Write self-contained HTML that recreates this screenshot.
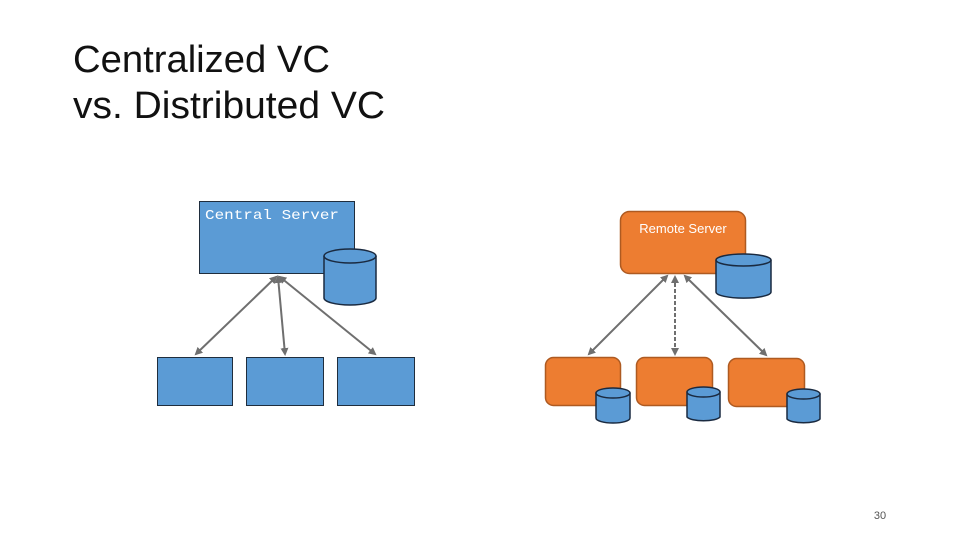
<!DOCTYPE html>
<html><head><meta charset="utf-8"><style>
html,body{margin:0;padding:0;background:#fff;}
svg{display:block;}
</style></head><body>
<svg width="960" height="540" viewBox="0 0 960 540" xmlns="http://www.w3.org/2000/svg">
<defs>
<marker id="ah" markerWidth="8" markerHeight="8" refX="6" refY="4" orient="auto-start-reverse" markerUnits="userSpaceOnUse">
<path d="M0,0 L8,4 L0,8 z" fill="#6f6f6f"/>
</marker>
</defs>
<text x="73" y="72" font-family="Liberation Sans, sans-serif" font-size="38" fill="#111" textLength="257" lengthAdjust="spacingAndGlyphs">Centralized VC</text>
<text x="73" y="118" font-family="Liberation Sans, sans-serif" font-size="38" fill="#111" textLength="312" lengthAdjust="spacingAndGlyphs">vs. Distributed VC</text>

<!-- Central -->
<rect x="199.5" y="201.5" width="155" height="72" fill="#5b9bd5" stroke="#1f2d3d" stroke-width="1"/>
<text x="205" y="219" font-family="Liberation Mono, monospace" font-size="14" fill="#fff" textLength="134" lengthAdjust="spacingAndGlyphs">Central Server</text>
<g stroke="#1a2a40" stroke-width="1.5" fill="#5b9bd5">
<path d="M324,256 L324,298 A26,7 0 0 0 376,298 L376,256"/>
<ellipse cx="350" cy="256" rx="26" ry="7"/>
</g>
<rect x="157.5" y="357.5" width="75" height="48" fill="#5b9bd5" stroke="#1f2d3d"/>
<rect x="246.5" y="357.5" width="77" height="48" fill="#5b9bd5" stroke="#1f2d3d"/>
<rect x="337.5" y="357.5" width="77" height="48" fill="#5b9bd5" stroke="#1f2d3d"/>
<g stroke="#6f6f6f" stroke-width="2" fill="none">
<line x1="276" y1="277" x2="196" y2="354" marker-start="url(#ah)" marker-end="url(#ah)"/>
<line x1="278" y1="277" x2="285" y2="354" marker-start="url(#ah)" marker-end="url(#ah)"/>
<line x1="280" y1="277" x2="375" y2="354" marker-start="url(#ah)" marker-end="url(#ah)"/>
</g>

<!-- Distributed -->
<rect x="620.5" y="211.5" width="125" height="62" rx="9" fill="#ed7d31" stroke="#ae5a21" stroke-width="1.5"/>
<text x="683" y="233" text-anchor="middle" font-family="Liberation Sans, sans-serif" font-size="13" fill="#fff">Remote Server</text>
<g stroke="#1a2a40" stroke-width="1.5" fill="#5b9bd5">
<path d="M716,260 L716,292 A27,6 0 0 0 771,292 L771,260"/>
<ellipse cx="743.5" cy="260" rx="27.5" ry="6"/>
</g>
<rect x="545.5" y="357.5" width="75" height="48" rx="8" fill="#ed7d31" stroke="#ae5a21" stroke-width="1.5"/>
<rect x="636.5" y="357.5" width="76" height="48" rx="8" fill="#ed7d31" stroke="#ae5a21" stroke-width="1.5"/>
<rect x="728.5" y="358.5" width="76" height="48" rx="8" fill="#ed7d31" stroke="#ae5a21" stroke-width="1.5"/>
<g stroke="#1a2a40" stroke-width="1.5" fill="#5b9bd5">
<path d="M596,393 L596,418 A17,5 0 0 0 630,418 L630,393"/><ellipse cx="613" cy="393" rx="17" ry="5"/>
<path d="M687,392 L687,417 A17,5 0 0 0 720,417 L720,392"/><ellipse cx="703.5" cy="392" rx="16.5" ry="5"/>
<path d="M787,394 L787,419 A17,5 0 0 0 820,419 L820,394"/><ellipse cx="803.5" cy="394" rx="16.5" ry="5"/>
</g>
<g stroke="#6f6f6f" stroke-width="2" fill="none">
<line x1="667" y1="276" x2="589" y2="354" marker-start="url(#ah)" marker-end="url(#ah)"/>
<line x1="675" y1="277" x2="675" y2="354" stroke-dasharray="4,2" marker-start="url(#ah)" marker-end="url(#ah)"/>
<line x1="685" y1="276" x2="766" y2="355" marker-start="url(#ah)" marker-end="url(#ah)"/>
</g>

<text x="880" y="519" text-anchor="middle" font-family="Liberation Sans, sans-serif" font-size="11" fill="#555">30</text>
</svg>
</body></html>
